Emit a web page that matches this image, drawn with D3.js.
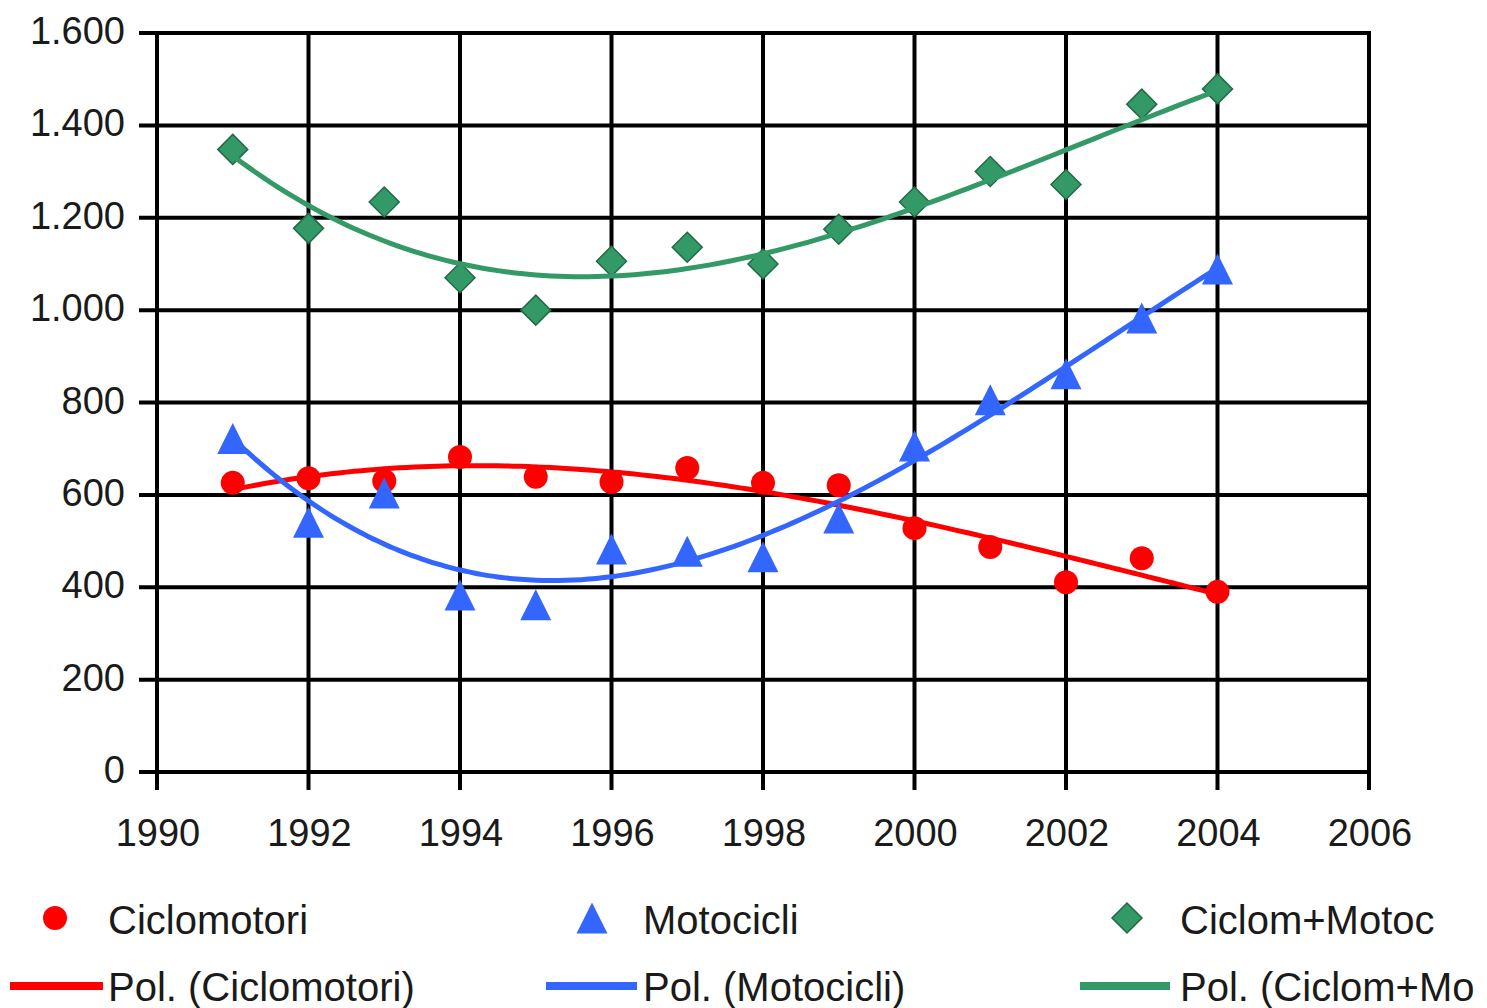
<!DOCTYPE html>
<html>
<head>
<meta charset="utf-8">
<script src="https://cdn.jsdelivr.net/npm/d3@7"></script>
<style>
  body { margin: 0; background: #fff; }
  text { font-family: "Liberation Sans", Arial, sans-serif; fill: #1a1a1a; }
</style>
</head>
<body>
<svg width="1487" height="1008"></svg>
<script>
// data
var years = [1991, 1992, 1993, 1994, 1995, 1996, 1997, 1998, 1999, 2000, 2001, 2002, 2003, 2004];
var ciclomotori = [626, 636, 630, 682, 639, 628, 658, 626, 621, 528, 487, 411, 463, 390];
var motocicli = [722, 541, 604, 383, 362, 483, 478, 466, 550, 706, 806, 862, 983, 1089];
var ciclomMotoc = [1348, 1177, 1234, 1070, 1000, 1106, 1136, 1100, 1175, 1234, 1300, 1272, 1446, 1479];

var xTicks = [1990, 1992, 1994, 1996, 1998, 2000, 2002, 2004, 2006];
var yTicks = [0, 200, 400, 600, 800, 1000, 1200, 1400, 1600];

var seriesNames = ["Ciclomotori", "Motocicli", "Ciclom+Motoc"];
var trendNames = ["Pol. (Ciclomotori)", "Pol. (Motocicli)", "Pol. (Ciclom+Mo"];
var colors = ["#ff0000", "#3366ff", "#339966"];

var svg = d3.select("svg");

var x = d3.scaleLinear().domain([1990, 2006]).range([157, 1369]);
var y = d3.scaleLinear().domain([0, 1600]).range([772, 33]);

var it = d3.formatLocale({decimal: ",", thousands: ".", grouping: [3], currency: ["€", ""]});
var fmt = it.format(",d");

// grid + ticks
var grid = svg.append("g");
grid.selectAll(".h").data(yTicks).enter().append("line")
    .attr("x1", 139).attr("x2", x(2006) + 2)
    .attr("y1", function(d) { return y(d); })
    .attr("y2", function(d) { return y(d); })
    .attr("stroke", "#000").attr("stroke-width", 4);
grid.selectAll(".v").data(xTicks).enter().append("line")
    .attr("x1", function(d) { return x(d); })
    .attr("x2", function(d) { return x(d); })
    .attr("y1", y(1600) - 2).attr("y2", 790)
    .attr("stroke", "#000").attr("stroke-width", 4);

svg.append("g").selectAll("text").data(yTicks).enter().append("text")
    .attr("x", 125)
    .attr("y", function(d) { return y(d) + 11; })
    .attr("text-anchor", "end")
    .style("font-size", "38px")
    .text(function(d) { return fmt(d); });

svg.append("g").selectAll("text").data(xTicks).enter().append("text")
    .attr("x", function(d) { return x(d) + 1; })
    .attr("y", 846)
    .attr("text-anchor", "middle")
    .style("font-size", "38px")
    .text(function(d) { return d; });

// polynomial trend (least squares, order 3), like the spreadsheet does
function polyFit(xs, ys, order) {
  var n = order + 1, A = [], i, j, k;
  for (i = 0; i < n; i++) {
    A[i] = [];
    for (j = 0; j <= n; j++) A[i][j] = 0;
  }
  xs.forEach(function(xv, p) {
    for (i = 0; i < n; i++) {
      for (j = 0; j < n; j++) A[i][j] += Math.pow(xv, i + j);
      A[i][n] += ys[p] * Math.pow(xv, i);
    }
  });
  for (i = 0; i < n; i++) {
    var piv = i;
    for (k = i + 1; k < n; k++) if (Math.abs(A[k][i]) > Math.abs(A[piv][i])) piv = k;
    var tmp = A[i]; A[i] = A[piv]; A[piv] = tmp;
    for (k = i + 1; k < n; k++) {
      var f = A[k][i] / A[i][i];
      for (j = i; j <= n; j++) A[k][j] -= f * A[i][j];
    }
  }
  var c = [];
  for (i = n - 1; i >= 0; i--) {
    var s = A[i][n];
    for (j = i + 1; j < n; j++) s -= A[i][j] * c[j];
    c[i] = s / A[i][i];
  }
  return function(xv) {
    var r = 0;
    for (i = 0; i < n; i++) r += c[i] * Math.pow(xv, i);
    return r;
  };
}

var allSeries = [ciclomotori, motocicli, ciclomMotoc];
var ts = years.map(function(yr) { return yr - 1997.5; });
var steps = d3.range(1991, 2004.001, 0.1);

var line = d3.line()
    .x(function(d) { return x(d[0]); })
    .y(function(d) { return y(d[1]); })
    .curve(d3.curveMonotoneX);

// symbols
var triangle = {
  draw: function(ctx, size) {
    var w = Math.sqrt(size), h = w;
    ctx.moveTo(0, -h / 2);
    ctx.lineTo(w / 2, h / 2);
    ctx.lineTo(-w / 2, h / 2);
    ctx.closePath();
  }
};
var diamond = {
  draw: function(ctx, size) {
    var r = Math.sqrt(size) / 2;
    ctx.moveTo(0, -r);
    ctx.lineTo(r, 0);
    ctx.lineTo(0, r);
    ctx.lineTo(-r, 0);
    ctx.closePath();
  }
};
var symbols = [
  d3.symbol().type(d3.symbolCircle).size(Math.PI * 12 * 12),
  d3.symbol().type(triangle).size(31 * 31),
  d3.symbol().type(diamond).size(30 * 30)
];
var strokes = ["none", "none", "#226b48"];

allSeries.forEach(function(vals, si) {
  var fit = polyFit(ts, vals, 3);
  var pts = steps.map(function(s) { return [s, fit(s - 1997.5)]; });

  svg.append("g").selectAll("path").data(years).enter().append("path")
      .attr("d", symbols[si])
      .attr("transform", function(d, i) { return "translate(" + x(d) + "," + y(vals[i]) + ")"; })
      .attr("fill", colors[si])
      .attr("stroke", strokes[si])
      .attr("stroke-width", 1.5);

  svg.append("path")
      .datum(pts)
      .attr("d", line)
      .attr("fill", "none")
      .attr("stroke", colors[si])
      .attr("stroke-width", 5);
});

// legend
var legX = [55, 592, 1127];
var legTextX = [108, 643, 1180];
var legLine = [[10, 103], [546, 637], [1080, 1170]];
var leg = svg.append("g");
seriesNames.forEach(function(name, i) {
  leg.append("path")
      .attr("d", symbols[i])
      .attr("transform", "translate(" + legX[i] + ",918)")
      .attr("fill", colors[i])
      .attr("stroke", strokes[i])
      .attr("stroke-width", 1.5);
  leg.append("text")
      .attr("x", legTextX[i]).attr("y", 934)
      .style("font-size", "40px")
      .text(name);
  leg.append("line")
      .attr("x1", legLine[i][0]).attr("x2", legLine[i][1])
      .attr("y1", 986).attr("y2", 986)
      .attr("stroke", colors[i]).attr("stroke-width", 8);
  leg.append("text")
      .attr("x", legTextX[i]).attr("y", 1001)
      .style("font-size", "40px")
      .text(trendNames[i]);
});
</script>
</body>
</html>
